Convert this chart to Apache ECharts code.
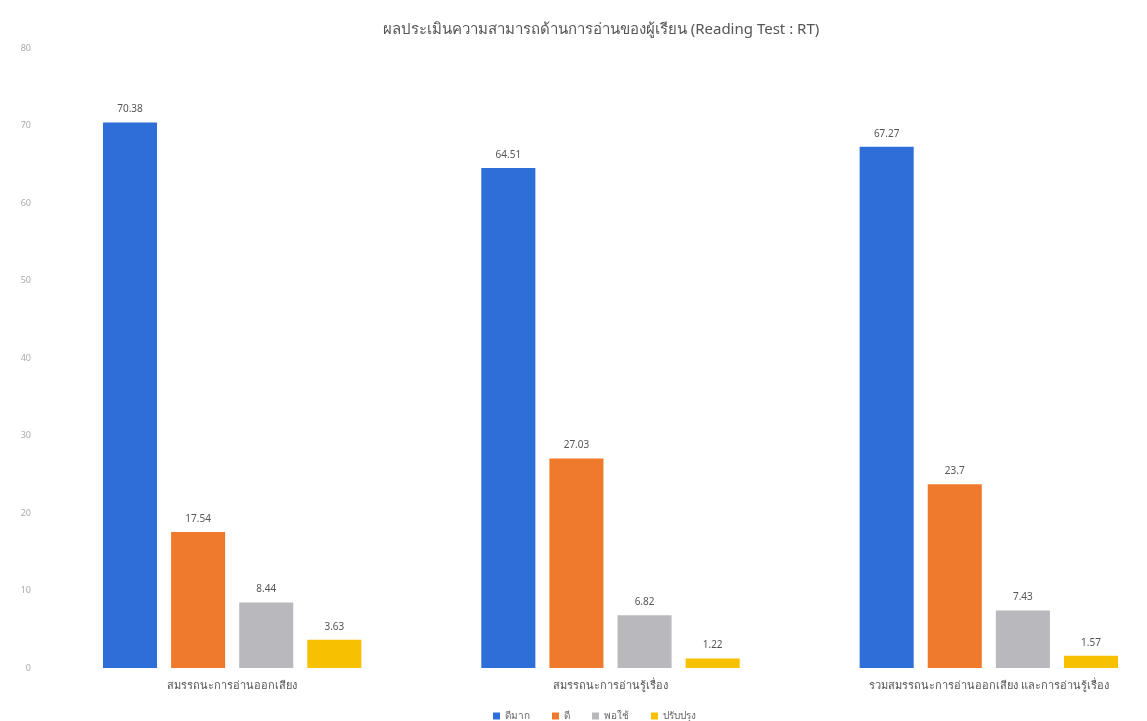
<!DOCTYPE html>
<html>
<head>
<meta charset="utf-8">
<script src="https://cdn.jsdelivr.net/npm/echarts@6/dist/echarts.min.js"></script>
<style>html,body{margin:0;padding:0;background:#fff;overflow:hidden;}#c{width:1180px;height:721px;}</style>
</head>
<body>
<div id="c"></div>
<script>
const titleText = 'ผลประเมินความสามารถด้านการอ่านของผู้เรียน (Reading Test : RT)';
const categories = ['สมรรถนะการอ่านออกเสียง', 'สมรรถนะการอ่านรู้เรื่อง', 'รวมสมรรถนะการอ่านออกเสียง และการอ่านรู้เรื่อง'];
const seriesNames = ['ดีมาก', 'ดี', 'พอใช้', 'ปรับปรุง'];
const veryGood = [70.38, 64.51, 67.27];
const good = [17.54, 27.03, 23.7];
const fair = [8.44, 6.82, 7.43];
const improve = [3.63, 1.22, 1.57];
const yTicks = [0, 10, 20, 30, 40, 50, 60, 70, 80];
const colors = ['#2d6ed8', '#f07a2c', '#b9b9bd', '#f7c000'];

const values = [veryGood, good, fair, improve];
const chart = echarts.init(document.getElementById('c'), null, {renderer: 'canvas'});
chart.setOption({
  animation: false,
  backgroundColor: '#ffffff',
  title: {
    text: titleText,
    left: 596, top: 17, textAlign: 'center',
    textStyle: {fontFamily: 'Noto Sans', fontSize: 15, fontWeight: 'normal', color: '#555'}
  },
  legend: {
    data: seriesNames, top: 706, left: 488,
    itemWidth: 7, itemHeight: 7, itemGap: 22, icon: 'rect',
    textStyle: {fontFamily: 'Noto Sans', fontSize: 10, color: '#666'}
  },
  grid: {left: 43, right: 2, top: 48, bottom: 53, containLabel: false},
  xAxis: {
    type: 'category', data: categories,
    axisLine: {show: false}, axisTick: {show: false},
    axisLabel: {fontFamily: 'Noto Sans', fontSize: 11, color: '#555', margin: 12}
  },
  yAxis: {
    type: 'value', min: yTicks[0], max: yTicks[yTicks.length - 1], interval: 10,
    axisLine: {show: false}, axisTick: {show: false},
    splitLine: {show: false},
    axisLabel: {fontFamily: 'Noto Sans', fontSize: 9, color: '#aaa', margin: 12}
  },
  series: seriesNames.map((n, i) => ({
    name: n, type: 'bar', data: values[i],
    barGap: '26%', barCategoryGap: '31.7%',
    itemStyle: {color: colors[i]},
    label: {show: true, position: 'top', distance: 8, fontFamily: 'Noto Sans', fontSize: 10, color: '#555'}
  }))
});
</script>
</body>
</html>
